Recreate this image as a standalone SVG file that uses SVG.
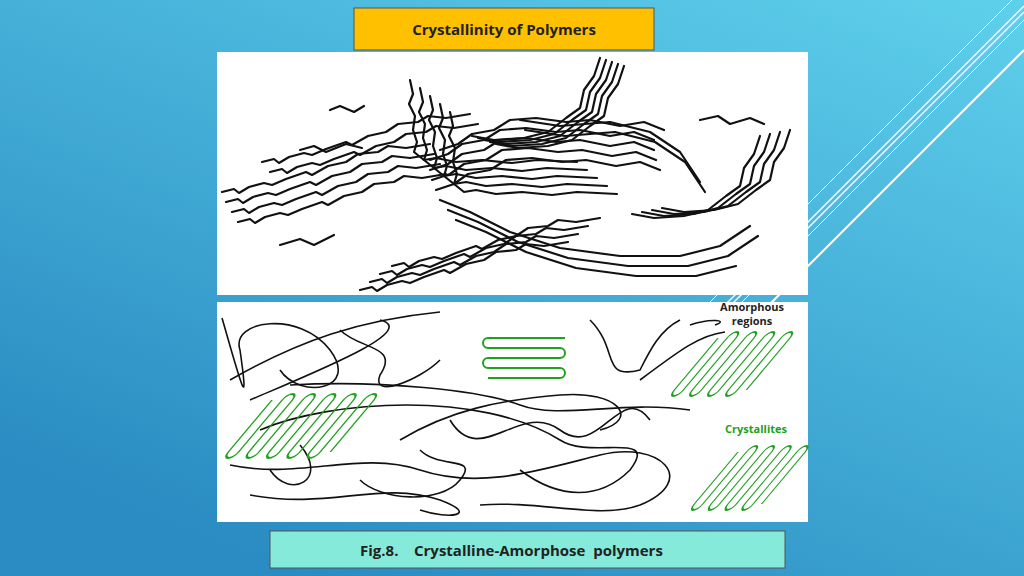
<svg xmlns="http://www.w3.org/2000/svg" xmlns:xlink="http://www.w3.org/1999/xlink" width="1024" height="576" viewBox="0 0 1024 576">
<defs>
<linearGradient id="bg" x1="1" y1="0" x2="0.3" y2="1"><stop offset="0" stop-color="#5fd0ec"/><stop offset="1" stop-color="#2a8cc2"/></linearGradient>
<path id="hp" d="M0,0 V52 a6,6 0 0 0 12,0 V0 a6,6 0 0 1 12,0 V52 a6,6 0 0 0 12,0 V0 a6,6 0 0 1 12,0 V52 a6,6 0 0 0 12,0 V0 a6,6 0 0 1 12,0 V52 a6,6 0 0 0 12,0 V0 a6,6 0 0 1 12,0 V52"/>
<path id="hp6" d="M0,0 V52 a6,6 0 0 0 12,0 V0 a6,6 0 0 1 12,0 V52 a6,6 0 0 0 12,0 V0 a6,6 0 0 1 12,0 V52 a6,6 0 0 0 12,0 V0 a6,6 0 0 1 12,0 V52 a6,6 0 0 0 12,0 V0 a6,6 0 0 1 12,0 V52 a6,6 0 0 0 12,0 V0 a6,6 0 0 1 12,0 V52"/>
<path id="b1" d="M0,0 l12,-3 l5,4 l10,-6 l15,-4 l8,2 l14,-6 l20,-7 l6,3 l16,-9 l18,-4 l12,-8 l20,-2 l10,-6 l18,2 l24,-4"/>
<path id="b2" d="M0,0 l3,14 l-4,10 l6,12 l-2,14 l4,12 l-3,10 l10,8 l12,-2 l20,4 l26,-2 l30,3 l25,-3 l40,2"/>
<path id="b3" d="M0,0 l-6,18 l-10,14 l-4,18 l-14,10 l-18,14 l-24,6 l-30,2 l-22,-4"/>
<path id="b4" d="M0,0 l18,-6 l14,-10 l22,-4 l16,-10 l26,-2 l30,4 l24,-2 l30,6 l24,-4 l20,8"/>
</defs>
<style>
.ln{fill:none;stroke:#fff}
.k{fill:none;stroke:#111;stroke-width:2.2;stroke-linecap:round;stroke-linejoin:round}
.a{fill:none;stroke:#111;stroke-width:1.6}
.g{fill:none;stroke:#22a022;stroke-width:2}
.t{font-family:"Open Sans","Liberation Sans",Arial,sans-serif;font-weight:bold;fill:#222}
</style>
<rect width="1024" height="576" fill="url(#bg)"/>
<g id="deco">
<line class="ln" x1="1012" y1="0" x2="700" y2="312" stroke-width="1"/>
<line class="ln" x1="1024" y1="6" x2="712" y2="318" stroke-width="1.5"/>
<line class="ln" x1="1024" y1="12" x2="718" y2="318" stroke-width="1.5"/>
<line class="ln" x1="1024" y1="20" x2="728" y2="316" stroke-width="1"/>
<line class="ln" x1="1024" y1="50" x2="760" y2="314" stroke-width="2"/>
</g>
<g id="title"><rect x="354" y="8" width="300" height="42" fill="#ffc000" stroke="#555"/><text class="t" x="504" y="35" font-size="15" text-anchor="middle">Crystallinity of Polymers</text></g>
<g id="img1">
<rect x="217" y="52" width="591" height="243" fill="#fff"/>
<g class="k">
<use href="#b1" x="222" y="192"/><use href="#b1" x="226" y="202"/><use href="#b1" x="232" y="212"/><use href="#b1" x="238" y="222"/>
<use href="#b1" x="262" y="162"/><use href="#b1" x="270" y="172"/>
<use href="#b2" x="410" y="80"/><use href="#b2" x="420" y="88"/><use href="#b2" x="430" y="96"/><use href="#b2" x="440" y="104"/><use href="#b2" x="450" y="112"/>
<use href="#b3" x="600" y="58"/><use href="#b3" x="606" y="60"/><use href="#b3" x="612" y="62"/><use href="#b3" x="618" y="64"/><use href="#b3" x="624" y="66"/>
<use href="#b4" x="430" y="160"/><use href="#b4" x="430" y="170"/><use href="#b4" x="432" y="180"/><use href="#b4" x="436" y="190"/><use href="#b4" x="440" y="150"/>
<use href="#b3" x="790" y="130"/><use href="#b3" x="780" y="132"/><use href="#b3" x="770" y="134"/><use href="#b3" x="760" y="136"/>
<use href="#b1" x="360" y="290"/><use href="#b1" x="370" y="282"/><use href="#b1" x="380" y="274"/><use href="#b1" x="392" y="266"/>
<path d="M440,200 l30,12 l40,20 l50,16 l60,8 l60,0 l40,-10 l30,-20"/><path d="M448,210 l30,12 l40,20 l50,16 l60,8 l60,0 l40,-10 l30,-20"/><path d="M456,220 l30,12 l40,20 l50,16 l60,8 l60,0 l40,-10"/>
<path d="M520,120 l40,6 l50,-4 l40,10 l30,20 l20,30"/><path d="M525,130 l40,6 l50,-4 l40,10 l30,20 l20,30"/>
<path d="M300,150 l14,-4 l12,6 l20,-8 l16,4"/><path d="M330,110 l10,-4 l14,6 l10,-6"/><path d="M280,245 l20,-6 l14,6 l20,-10"/><path d="M700,120 l18,-4 l12,8 l20,-6 l14,6"/>
</g></g>
<g id="img2">
<rect x="217" y="302" width="591" height="220" fill="#fff"/>
<g class="a">
<path d="M222,318 C240,380 250,420 240,350 C230,320 300,310 330,350 C360,390 300,400 280,370"/>
<path d="M230,380 C300,340 360,320 440,312"/>
<path d="M250,400 C320,370 420,330 380,320"/>
<path d="M290,385 C380,380 480,390 520,405 C560,420 620,400 690,410"/>
<path d="M260,430 C330,400 480,390 560,440 C590,460 660,430 630,470 C600,500 560,500 520,470"/>
<path d="M230,465 C300,480 360,450 420,470 C480,490 540,470 600,455 C660,440 700,480 640,505 C600,520 540,500 480,505"/>
<path d="M250,495 C330,510 380,480 440,500 C480,515 450,520 420,510"/>
<path d="M400,440 C450,410 500,400 560,395 C620,390 640,420 600,430"/>
<path d="M450,420 C480,470 520,400 560,430 C600,460 620,380 650,420"/>
<path d="M590,320 C620,350 600,380 640,370 C650,350 660,330 680,320"/>
<path d="M640,380 C680,350 700,335 725,332"/>
<path d="M690,325 C710,318 730,320 715,325"/>
<path d="M340,330 C360,350 400,345 380,375 C370,400 420,380 440,360"/>
<path d="M420,450 C440,470 480,455 460,480 C440,505 380,500 360,480"/>
<path d="M300,445 C330,480 290,500 270,470"/>
</g>
<g class="g">
<path d="M565,338 H488 a5,5 0 0 0 0,10 H560 a5,5 0 0 1 0,10 H488 a5,5 0 0 0 0,10 H560 a5,5 0 0 1 0,10 H488"/>
<use href="#hp6" transform="translate(272,400) skewX(-40) scale(0.85,1)"/>
<use href="#hp" transform="translate(718,338) skewX(-40) scale(0.75,1)"/>
<use href="#hp" transform="translate(738,452) skewX(-40) scale(0.7,1)"/>
</g>
<text class="t" x="752" y="311" font-size="11" text-anchor="middle">Amorphous</text>
<text class="t" x="752" y="325" font-size="11" text-anchor="middle">regions</text>
<text class="t" x="756" y="433" font-size="11" text-anchor="middle" style="fill:#22a022">Crystallites</text>
</g>
<g id="caption"><rect x="270" y="531" width="515" height="37" fill="#86eada" stroke="#555"/><text class="t" x="360" y="556" font-size="15" xml:space="preserve">Fig.8.    Crystalline-Amorphose  polymers</text></g>
</svg>
